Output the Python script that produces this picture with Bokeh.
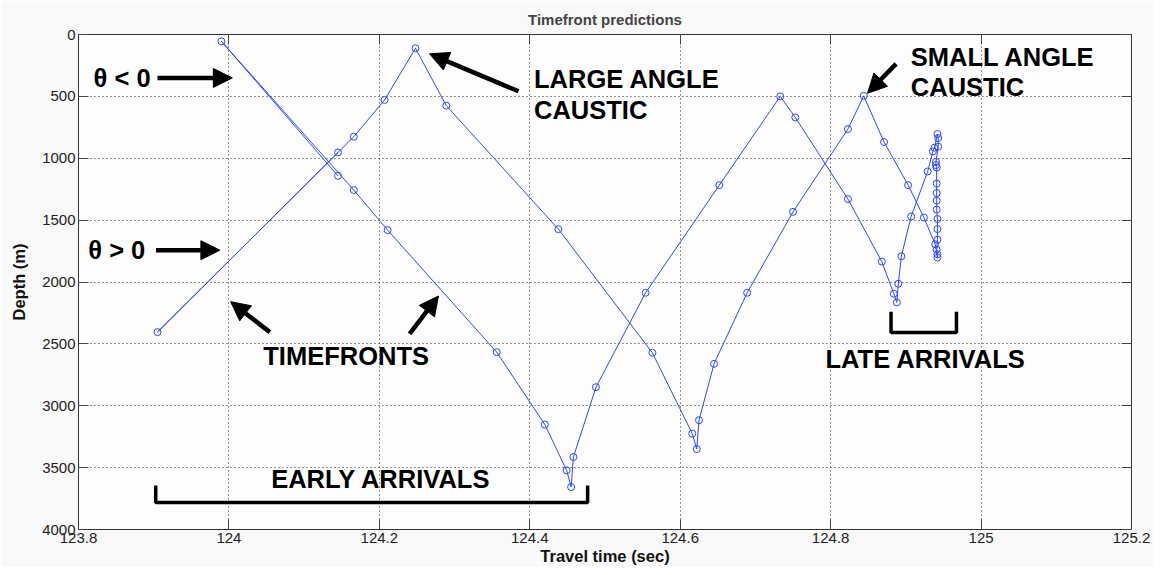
from bokeh.plotting import figure
from bokeh.models import (Range1d, FixedTicker, LinearAxis, CustomJSTickFormatter,
                          Label, Arrow, NormalHead)
from bokeh.embed import file_html
from bokeh.resources import INLINE

# ---------------- data ----------------
travel_time = [124.145, 123.990, 124.166, 124.211, 124.356, 124.420, 124.449, 124.455,
               124.458, 124.488, 124.554, 124.652, 124.733, 124.753, 124.823, 124.868,
               124.884, 124.888, 124.890, 124.894, 124.907, 124.929, 124.936, 124.938,
               124.942, 124.943, 124.943, 124.940, 124.940, 124.941, 124.941, 124.941,
               124.941, 124.941, 124.942, 124.942, 124.942, 124.941, 124.942, 124.942,
               124.939, 124.924, 124.903, 124.871, 124.844, 124.823, 124.750, 124.689,
               124.645, 124.625, 124.622, 124.616, 124.563, 124.438, 124.289, 124.248,
               124.207, 124.166, 123.905, 124.145]
depth = [1142, 55, 1257, 1581, 2567, 3152, 3522, 3657,
         3414, 2850, 2087, 1217, 500, 670, 1330, 1835,
         2095, 2165, 2014, 1792, 1471, 1107, 945, 915,
         804, 837, 906, 1030, 1055, 1075, 1205, 1281,
         1342, 1415, 1491, 1572, 1658, 1739, 1776, 1803,
         1695, 1479, 1217, 869, 496, 764, 1433, 2087,
         2661, 3117, 3350, 3225, 2572, 1573, 575, 111,
         529, 826, 2405, 953]

x_ticks = [123.8, 124.0, 124.2, 124.4, 124.6, 124.8, 125.0, 125.2]
y_ticks = [0, 500, 1000, 1500, 2000, 2500, 3000, 3500, 4000]

FONT = "Liberation Sans"
BLUE = "#2a48ff"

p = figure(width=1153, height=567, output_backend="svg", toolbar_location=None,
           x_range=Range1d(123.8, 125.2), y_range=Range1d(4000, 0),
           min_border_left=78, min_border_right=22, min_border_top=34, min_border_bottom=38,
           title="Timefront predictions")
p.border_fill_color = "#f9f9f9"
p.background_fill_color = "#fdfdfd"
p.outline_line_color = "#333333"
p.title.align = "center"
p.title.text_font = FONT
p.title.text_font_size = "15px"
p.title.text_font_style = "bold"
p.title.offset = 0
p.title.standoff = 13

fmt = CustomJSTickFormatter(code="return String(Math.round(tick*10)/10);")
empty = CustomJSTickFormatter(code="return '';")

for ax in (p.xaxis[0], p.yaxis[0]):
    ax.major_tick_in = 10
    ax.major_tick_out = 0
    ax.minor_tick_line_color = None
    ax.axis_line_color = "#333333"
    ax.major_tick_line_color = "#444444"
    ax.major_label_text_font = FONT
    ax.major_label_text_font_size = "15px"
    ax.major_label_text_color = "#222222"
    ax.axis_label_text_font = FONT
    ax.axis_label_text_font_size = "16.5px"
    ax.axis_label_text_font_style = "bold"
    ax.axis_label_text_color = "#111111"
    ax.major_label_standoff = 3
    ax.axis_label_standoff = 1

p.xaxis[0].ticker = FixedTicker(ticks=x_ticks)
p.xaxis[0].formatter = fmt
p.xaxis[0].axis_label = "Travel time (sec)"
p.yaxis[0].ticker = FixedTicker(ticks=y_ticks)
p.yaxis[0].axis_label = "Depth (m)"
p.yaxis[0].axis_label_standoff = 11

top_ax = LinearAxis(ticker=FixedTicker(ticks=x_ticks), formatter=empty,
                    major_tick_in=10, major_tick_out=0, minor_tick_line_color=None,
                    major_label_text_font_size="0px", major_label_standoff=0,
                    axis_line_color="#333333", major_tick_line_color="#444444")
right_ax = LinearAxis(ticker=FixedTicker(ticks=y_ticks), formatter=empty,
                      major_tick_in=10, major_tick_out=0, minor_tick_line_color=None,
                      major_label_text_font_size="0px", major_label_standoff=0,
                      axis_line_color="#333333", major_tick_line_color="#444444")
p.add_layout(top_ax, "above")
p.add_layout(right_ax, "right")

for g in (p.xgrid[0], p.ygrid[0]):
    g.grid_line_color = "black"
    g.grid_line_dash = "1 3"
    g.grid_line_alpha = 0.85
p.xgrid[0].ticker = FixedTicker(ticks=x_ticks)
p.ygrid[0].ticker = FixedTicker(ticks=y_ticks)

# ---------------- curve ----------------
p.line(travel_time, depth, line_color=BLUE, line_width=1)
p.scatter(travel_time, depth, marker="circle", size=7, fill_color=None,
          line_color=BLUE, line_width=1)

# ---------------- annotations ----------------
def label(x, y, txt):
    p.add_layout(Label(x=x, y=y, text=txt, text_font=FONT, text_font_style="bold",
                       text_font_size="25.5px", text_color="black",
                       text_baseline="alphabetic", text_align="left"))

label(123.820, 355, "θ < 0")
label(123.813, 1740, "θ > 0")
label(124.4056, 358, "LARGE ANGLE")
label(124.4056, 614, "CAUSTIC")
label(124.9066, 182, "SMALL ANGLE")
label(124.9066, 425, "CAUSTIC")
label(124.0456, 2597, "TIMEFRONTS")
label(124.0562, 3590, "EARLY ARRIVALS")
label(124.7931, 2620, "LATE ARRIVALS")

def arrow(x0, y0, x1, y1):
    p.add_layout(Arrow(end=NormalHead(size=19, fill_color="black", line_color="black"),
                       x_start=x0, y_start=y0, x_end=x1, y_end=y1,
                       line_color="black", line_width=4.5))

arrow(123.905, 351, 124.0045, 351)
arrow(123.903, 1743, 123.988, 1743)
arrow(124.385, 459, 124.2667, 156)
arrow(124.887, 237, 124.849, 475)
arrow(124.0544, 2405, 124.0022, 2159)
arrow(124.2402, 2419, 124.2786, 2113)

# brackets
p.line([123.9027, 123.9027, 124.4769, 124.4769], [3644, 3781, 3781, 3644],
       line_color="black", line_width=3.5)
p.line([124.8803, 124.8803, 124.9673, 124.9673], [2240, 2409, 2409, 2240],
       line_color="black", line_width=3.5)

open("out.html", "w").write(file_html(p, INLINE))
